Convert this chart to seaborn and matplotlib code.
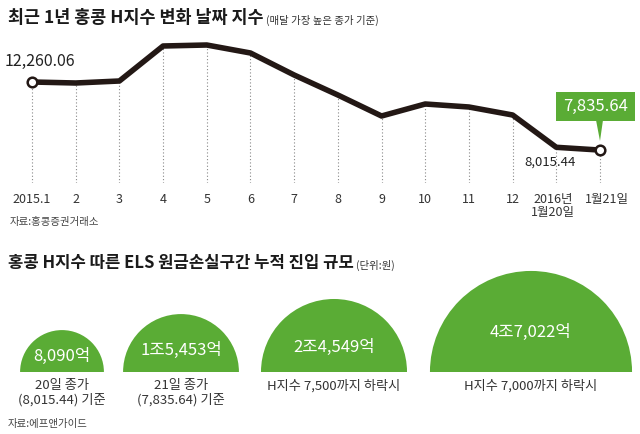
import matplotlib
matplotlib.use("Agg")
import matplotlib.pyplot as plt
import matplotlib.transforms as mtransforms
import seaborn as sns
import numpy as np
import pandas as pd
from matplotlib.patches import Wedge, Rectangle, Polygon

sns.set_style("white")
plt.rcParams['font.family'] = ['Noto Sans CJK KR', 'DejaVu Sans']

# ---- data ----
tick_labels = ["2015.1", "2", "3", "4", "5", "6", "7", "8", "9", "10", "11", "12",
               "2016년\n1월20일", "1월21일"]
index_values = [12260.06, 12195, 12325, 14600, 14665, 14145, 12715, 11415,
                10050, 10830, 10635, 10115, 8015.44, 7835.64]

bubble_values = [8090, 15453, 24549, 47022]          # 억원
bubble_labels = ["8,090억", "1조5,453억", "2조4,549억", "4조7,022억"]
bubble_captions = ["20일 종가\n(8,015.44) 기준", "21일 종가\n(7,835.64) 기준",
                   "H지수 7,500까지 하락시", "H지수 7,000까지 하락시"]

GREEN = "#5aac35"
LINE = "#231815"
TXT = "#333333"

W, H = 640, 434
fig = plt.figure(figsize=(W / 100, H / 100), dpi=100)

# ---- line chart ----
top_px, bot_px = 40, 183
ax1 = fig.add_axes([0, (H - bot_px) / H, 1, (bot_px - top_px) / H])
df = pd.DataFrame({"x": np.arange(len(index_values)), "v": index_values})
px_per_unit = (600 - 32) / (len(index_values) - 1)
ax1.set_xlim(-32 / px_per_unit, (len(index_values) - 1) + 40 / px_per_unit)
ymin, ymax = 5695, 14990
ax1.set_ylim(ymin, ymax)
ax1.vlines(df["x"], ymin, df["v"], colors="#888888", linestyles=(0, (1, 2)), linewidth=0.8, zorder=1)
sns.lineplot(data=df, x="x", y="v", ax=ax1, color=LINE, linewidth=4.0, zorder=3)
ends = df.iloc[[0, -1]]
ax1.scatter(ends["x"], ends["v"], s=48, facecolor="white", edgecolor=LINE, linewidth=1.8, zorder=4)
ax1.set_xticks(df["x"])
ax1.set_xticklabels(tick_labels, fontsize=9, color=TXT, linespacing=1.0, va="top")
ax1.tick_params(axis="x", length=0, pad=7)
labs = ax1.get_xticklabels()
labs[-2].set_transform(labs[-2].get_transform() + mtransforms.ScaledTranslation(-3 / 100, 0, fig.dpi_scale_trans))
labs[-1].set_transform(labs[-1].get_transform() + mtransforms.ScaledTranslation(7 / 100, 0, fig.dpi_scale_trans))
ax1.set_yticks([])
ax1.set_xlabel("")
ax1.set_ylabel("")
for s in ax1.spines.values():
    s.set_visible(False)
ax1.patch.set_alpha(0)

ax1.annotate(f"{index_values[0]:,.2f}", xy=(0, index_values[0]), xytext=(8, 12),
             textcoords="offset pixels", ha="center", va="bottom", fontsize=11.5, color="#222222")
ax1.annotate(f"{index_values[-2]:,.2f}", xy=(12, index_values[-2]), xytext=(-6, -8),
             textcoords="offset pixels", ha="center", va="top", fontsize=9.5, color="#222222")

# ---- overlay axes in pixel coordinates ----
ax2 = fig.add_axes([0, 0, 1, 1], zorder=5)
ax2.set_xlim(0, W)
ax2.set_ylim(0, H)
ax2.axis("off")
ax2.patch.set_alpha(0)

def Y(y):
    return H - y

# callout for last value
ax2.add_patch(Rectangle((556, Y(121)), 79, 29, facecolor=GREEN, edgecolor="none"))
ax2.add_patch(Polygon([(596, Y(120)), (603, Y(120)), (600, Y(141))], closed=True,
                      facecolor=GREEN, edgecolor="none"))
ax2.text(595.5, Y(106.5), f"{index_values[-1]:,.2f}", ha="center", va="center",
         fontsize=12, color="white")

renderer = fig.canvas.get_renderer()

def title_with_note(x, y, title, note, size):
    t = ax2.text(x, Y(y), title, ha="left", va="center", fontsize=size,
                 fontweight="bold", color="#1a1a1a")
    bb = t.get_window_extent(renderer=renderer)
    ax2.text(bb.x1 + 2, Y(y + 2), note, ha="left", va="center", fontsize=7.5, color=TXT)

title_with_note(8, 18, "최근 1년 홍콩 H지수 변화 날짜 지수", "(매달 가장 높은 종가 기준)", 12.5)
ax2.text(10, Y(222), "자료:홍콩증권거래소", ha="left", va="center", fontsize=7.5, color="#444444")

title_with_note(8, 263, "홍콩 H지수 따른 ELS 원금손실구간 누적 진입 규모", "(단위:원)", 12)
ax2.text(8, Y(424), "자료:에프앤가이드", ha="left", va="center", fontsize=7.5, color="#444444")

# semicircles: area proportional to value
k = 0.466
centers = [62, 181, 334, 531]
base = 372
label_y = [356, 350, 347, 332]
for cx, v, lab, cap, ly in zip(centers, bubble_values, bubble_labels, bubble_captions, label_y):
    r = k * np.sqrt(v)
    ax2.add_patch(Wedge((cx, Y(base)), r, 0, 180, facecolor=GREEN, edgecolor="none"))
    ax2.text(cx, Y(ly), lab, ha="center", va="center", fontsize=12, color="white")
    ax2.text(cx, Y(379), cap, ha="center", va="top", fontsize=9.5, color=TXT, linespacing=1.1)

fig.savefig("out.png", dpi=100, facecolor="white")
